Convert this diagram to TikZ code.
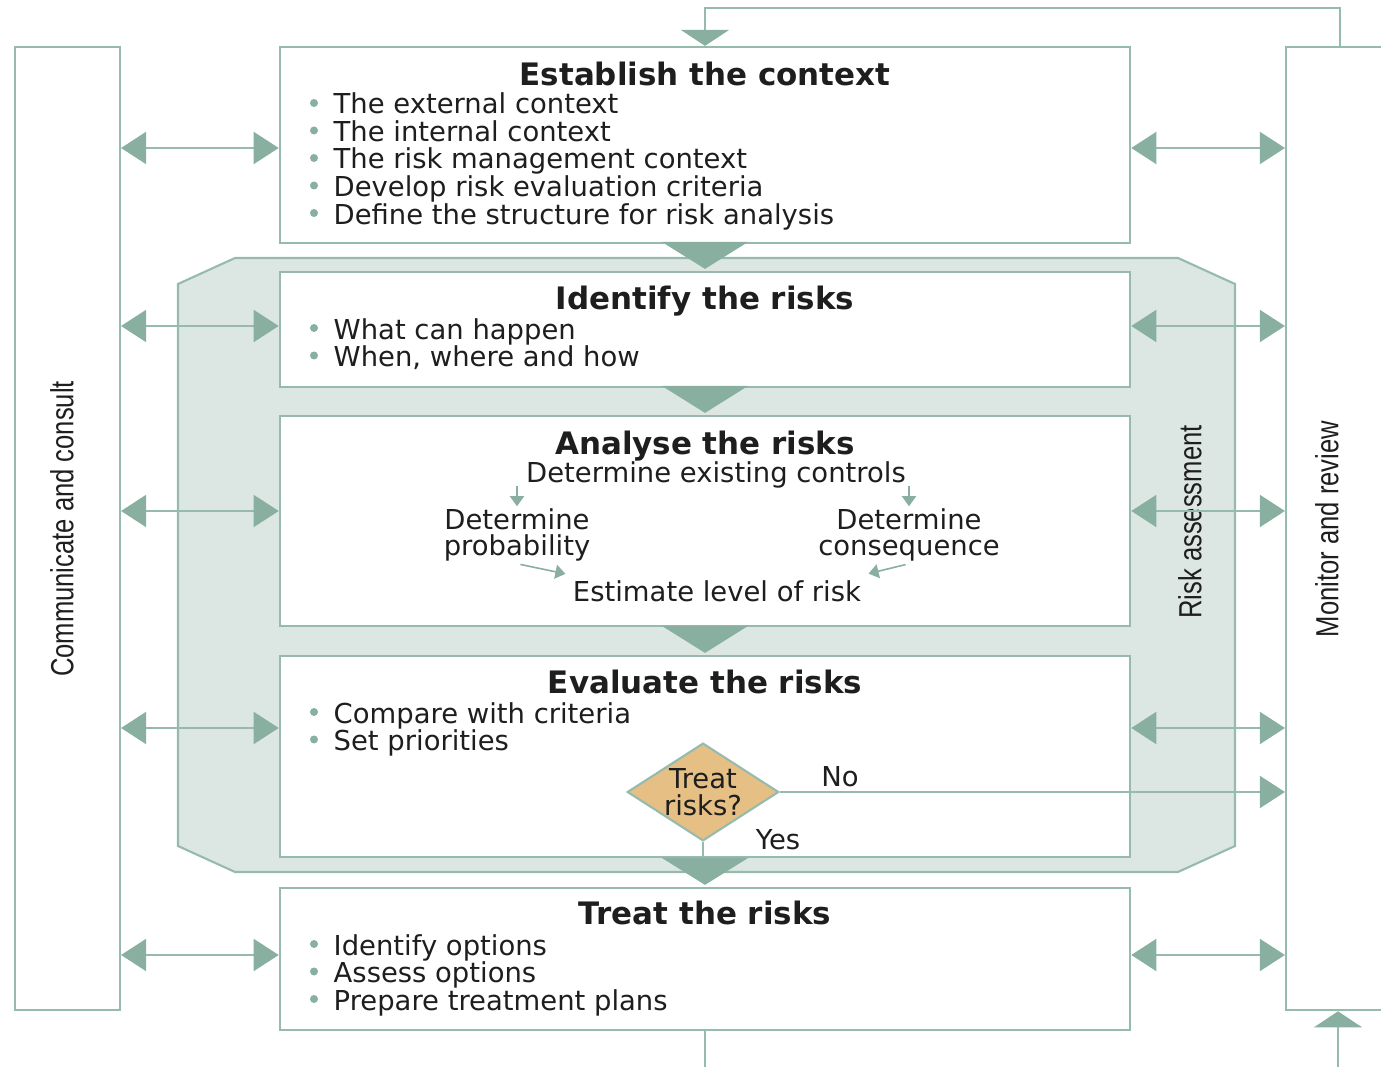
\documentclass[tikz,border=0pt]{standalone}
\usepackage{fontspec}
\setmainfont{DejaVu Sans}
\newfontfamily\condfont[FakeStretch=0.8]{Liberation Sans}
\usepackage{xcolor}
\usetikzlibrary{arrows.meta,shapes.geometric}

\definecolor{rimc}{HTML}{96BBAE}
\definecolor{tipc}{HTML}{88AF9F}
\definecolor{zonec}{HTML}{DCE7E3}
\definecolor{decc}{HTML}{E6BF84}
\definecolor{inkc}{HTML}{1E1E1E}

\begin{document}
\begin{tikzpicture}[x=0.01cm, y=-0.01cm,
    sidetip/.tip={Triangle[length=0.25cm,width=0.32cm,color=tipc]},
    chevtip/.tip={Triangle[length=0.27cm,width=0.86cm,color=tipc]},
    looptip/.tip={Triangle[length=0.16cm,width=0.48cm,color=tipc]},
    smalltip/.tip={Triangle[length=0.1cm,width=0.14cm,color=tipc]},
    rim/.style={draw=rimc, line width=0.5pt},
    box/.style={draw=rimc, line width=0.6pt, fill=white, minimum width=8.5cm, inner sep=0},
    side/.style={draw=rimc, line width=0.6pt, fill=white, inner sep=0},
    title/.style={font=\fontsize{8.8}{9}\selectfont\bfseries, text=inkc, inner sep=0, text height=0.27cm, text depth=0.03cm},
    plain/.style={font=\fontsize{7.8}{7.6}\selectfont, text=inkc, inner sep=0, text height=0.25cm, text depth=0.03cm},
    item/.style={plain, anchor=west},
    txt/.style={font=\fontsize{7.8}{7.4}\selectfont, text=inkc, inner sep=0.5pt, align=center},
    vert/.style={rotate=90, font=\condfont\fontsize{9.1}{10}\selectfont, text=inkc, inner sep=0},
    duo/.style={rim, sidetip-sidetip},
    chev/.style={draw=tipc, line width=0.6pt, -chevtip, shorten >=0.02cm},
    minor/.style={draw=tipc, line width=0.45pt, -smalltip}]

    \useasboundingbox (0,0) rectangle (1381,1067);

    % Risk assessment zone
    \filldraw[fill=zonec, draw=rimc, line width=0.6pt] (178,284) -- (235,258) -- (1178,258) -- (1235,284)
        -- (1235,846) -- (1178,872) -- (235,872) -- (178,846) -- cycle;
    \node[vert] (ralbl) at (1190,522) {Risk assessment};

    % Side columns
    \node[side, minimum width=1.05cm, minimum height=9.63cm] (com) at (67.5,528.5) {};
    \node[vert] (comlbl) at (62,529) {Communicate and consult};
    \node[side, minimum width=1.2cm, minimum height=9.63cm] (mon) at (1346,528.5) {};
    \node[vert] (monlbl) at (1327,529) {Monitor and review};

    % Process steps
    \node[box, minimum height=1.96cm] (ctx) at (705,145) {};
    \node[box, minimum height=1.15cm] (idf) at (705,329.5) {};
    \node[box, minimum height=2.10cm] (ana) at (705,521) {};
    \node[box, minimum height=2.01cm] (evl) at (705,756.5) {};
    \node[box, minimum height=1.42cm] (trt) at (705,959) {};

    % Titles
    \node[title] (ctxt) at (705,73) {Establish the context};
    \node[title] (idft) at (705,297) {Identify the risks};
    \node[title] (anat) at (705,442) {Analyse the risks};
    \node[title] (evlt) at (705,681) {Evaluate the risks};
    \node[title] (trtt) at (705,912) {Treat the risks};

    % Bullet lists
    \foreach \txt [count=\i] in {The external context, The internal context, The risk management context,
        Develop risk evaluation criteria, Define the structure for risk analysis} {
        \fill[tipc] (314,{103+27.5*(\i-1)}) circle (0.04cm);
        \node[item] (ctx\i) at (333,{103+27.5*(\i-1)}) {\txt};
    }
    \foreach \txt [count=\i] in {What can happen, {When, where and how}} {
        \fill[tipc] (314,{328+27.5*(\i-1)}) circle (0.04cm);
        \node[item] (idf\i) at (333,{328+27.5*(\i-1)}) {\txt};
    }
    \foreach \txt [count=\i] in {Compare with criteria, Set priorities} {
        \fill[tipc] (314,{712+27.5*(\i-1)}) circle (0.04cm);
        \node[item] (evl\i) at (333,{712+27.5*(\i-1)}) {\txt};
    }
    \foreach \txt [count=\i] in {Identify options, Assess options, Prepare treatment plans} {
        \fill[tipc] (314,{944+27.5*(\i-1)}) circle (0.04cm);
        \node[item] (trt\i) at (333,{944+27.5*(\i-1)}) {\txt};
    }

    % Analysis detail
    \node[plain] (ctrl) at (716,471) {Determine existing controls};
    \node[txt] (prob) at (517,535) {Determine\\probability};
    \node[txt] (cons) at (909,535) {Determine\\consequence};
    \node[plain] (est) at (717,590) {Estimate level of risk};
    \draw[minor] (ctrl.south -| prob.north) -- (prob.north);
    \draw[minor] (ctrl.south -| cons.north) -- (cons.north);
    \draw[minor, shorten <=1pt, shorten >=2pt] (prob.south) -- (est.north west);
    \draw[minor, shorten <=1pt, shorten >=2pt] (cons.south) -- (est.north east);

    % Decision
    \node[shape=diamond, draw=rimc, line width=0.6pt, fill=decc, aspect=1.55, txt, inner sep=0pt,
        font=\fontsize{7.8}{7.7}\selectfont] (dec) at (703,792) {Treat\\risks?};
    \node[plain] (nolbl) at (840,775) {No};
    \node[plain] (yeslbl) at (778,838) {Yes};
    \draw[rim, -sidetip] (dec.east) -- (dec.east -| mon.west);
    \draw[rim] (dec.south) -- (dec.south |- evl.south);

    % Flow between steps
    \foreach \a/\b in {ctx/idf, idf/ana, ana/evl, evl/trt}
        \draw[chev] (\a.south) -- (\b.north);

    % Links to the side columns
    \foreach \n/\y in {ctx/148, idf/326, ana/511, evl/728, trt/955} {
        \draw[duo] (com.east |- 0,\y) -- (\n.west |- 0,\y);
        \draw[duo] (\n.east |- 0,\y) -- (mon.west |- 0,\y);
    }

    % Feedback loop
    \coordinate (looptop) at (1340,47);
    \draw[rim, -looptip] (looptop) |- ([yshift=0.38cm]ctx.north) -- (ctx.north);
    \coordinate (loopout) at (705,1080);
    \draw[rim] (trt.south) -- (loopout);
    \coordinate (loopin) at (1338,1080);
    \draw[rim, -looptip] (loopin) -- (loopin |- mon.south);
\end{tikzpicture}
\end{document}
